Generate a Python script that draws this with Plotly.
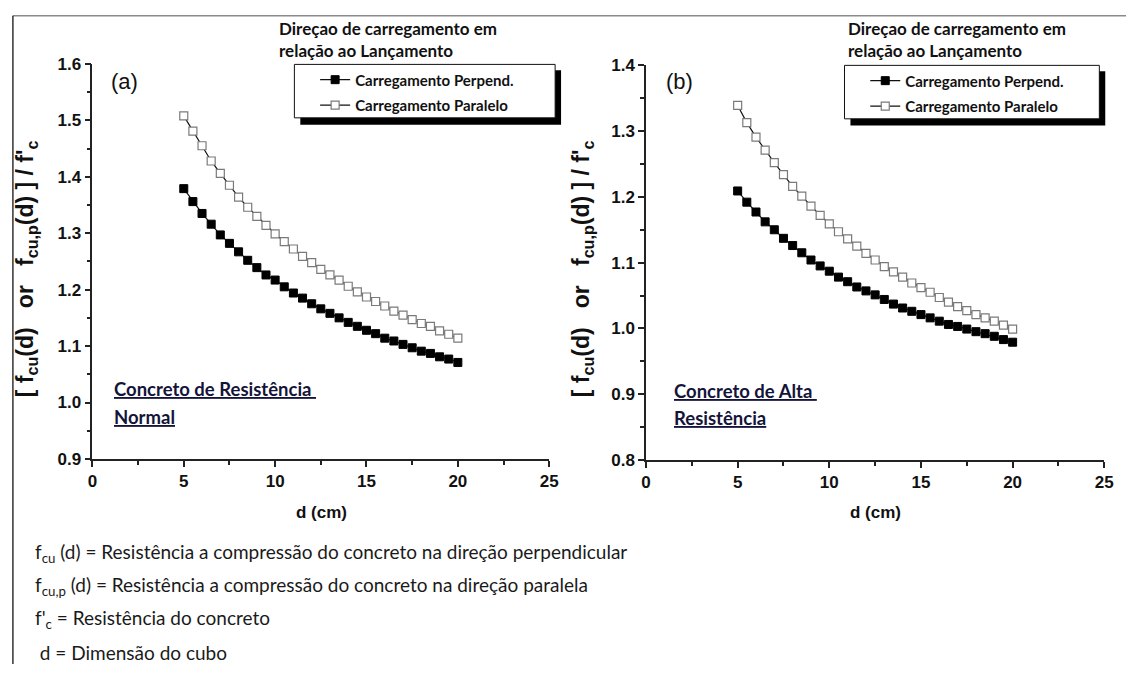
import plotly.graph_objects as go

# Cube size d (cm)
d_cm = [5.0, 5.5, 6.0, 6.5, 7.0, 7.5, 8.0, 8.5, 9.0, 9.5, 10.0,
        10.5, 11.0, 11.5, 12.0, 12.5, 13.0, 13.5, 14.0, 14.5, 15.0,
        15.5, 16.0, 16.5, 17.0, 17.5, 18.0, 18.5, 19.0, 19.5, 20.0]

# (a) Normal-strength concrete
perp_a = [1.379, 1.356, 1.335, 1.316, 1.297, 1.282, 1.267, 1.252, 1.239, 1.226, 1.217,
          1.205, 1.194, 1.185, 1.175, 1.166, 1.158, 1.150, 1.142, 1.135, 1.128,
          1.122, 1.114, 1.109, 1.103, 1.097, 1.091, 1.087, 1.081, 1.077, 1.071]
para_a = [1.508, 1.481, 1.455, 1.428, 1.406, 1.385, 1.364, 1.346, 1.330, 1.314, 1.299,
          1.285, 1.272, 1.259, 1.248, 1.236, 1.226, 1.217, 1.206, 1.196, 1.187,
          1.179, 1.171, 1.162, 1.155, 1.147, 1.140, 1.135, 1.127, 1.121, 1.114]

# (b) High-strength concrete
perp_b = [1.209, 1.192, 1.177, 1.162, 1.150, 1.137, 1.126, 1.115, 1.104, 1.095, 1.087,
          1.078, 1.071, 1.063, 1.057, 1.051, 1.044, 1.037, 1.031, 1.026, 1.021,
          1.016, 1.011, 1.006, 1.003, 0.999, 0.995, 0.992, 0.988, 0.983, 0.979]
para_b = [1.339, 1.313, 1.291, 1.271, 1.252, 1.234, 1.216, 1.201, 1.186, 1.172, 1.159,
          1.147, 1.136, 1.125, 1.114, 1.104, 1.094, 1.086, 1.078, 1.069, 1.062,
          1.055, 1.047, 1.040, 1.033, 1.027, 1.021, 1.016, 1.011, 1.005, 0.999]

series_names = ["Carregamento Perpend.", "Carregamento Paralelo"]
x_ticks = [0, 5, 10, 15, 20, 25]

W, H = 1135, 674


def px(x):
    return x / W


def py(y):
    return 1 - y / H


fig = go.Figure()

line_style = dict(color="#111111", width=1.2)
perp_marker = dict(symbol="square", size=8, color="#000000", line=dict(color="#000000", width=1))
para_marker = dict(symbol="square", size=8, color="#ffffff", line=dict(color="#7a7a7a", width=1.2))

for xa, ya, leg, perp, para in [("x", "y", "legend", perp_a, para_a),
                                ("x2", "y2", "legend2", perp_b, para_b)]:
    fig.add_trace(go.Scatter(x=d_cm, y=perp, mode="lines+markers", name=series_names[0],
                             line=line_style, marker=perp_marker, xaxis=xa, yaxis=ya,
                             legend=leg, legendgroup=leg + "p"))
    fig.add_trace(go.Scatter(x=d_cm, y=para, mode="lines+markers", name=series_names[1],
                             line=line_style, marker=para_marker, xaxis=xa, yaxis=ya,
                             legend=leg, legendgroup=leg + "q"))

tick_font = dict(family="Liberation Sans, Arial, sans-serif", size=17, color="#111111", weight="bold")
axis_common = dict(showline=True, linecolor="#222222", linewidth=1.5, ticks="outside",
                   ticklen=6, tickwidth=1.5, tickcolor="#222222", showgrid=False,
                   zeroline=False, tickfont=tick_font)

fig.update_layout(
    xaxis=dict(domain=[px(88.5), px(551)], range=[0, 25], tickvals=x_ticks,
               minor=dict(ticks="outside", ticklen=4, dtick=2.5, tickcolor="#222222", tickwidth=1.5),
               anchor="y", **axis_common),
    yaxis=dict(domain=[py(463), py(56.5)], range=[0.9, 1.6], dtick=0.1, tickformat=".1f",
               minor=dict(ticks="outside", ticklen=4, dtick=0.05, tickcolor="#222222", tickwidth=1.5),
               anchor="x", **axis_common),
    xaxis2=dict(domain=[px(649), px(1113)], range=[0, 25], tickvals=x_ticks,
                minor=dict(ticks="outside", ticklen=4, dtick=2.5, tickcolor="#222222", tickwidth=1.5),
                anchor="y2", **axis_common),
    yaxis2=dict(domain=[py(464), py(58)], range=[0.8, 1.4], dtick=0.1, tickformat=".1f",
                minor=dict(ticks="outside", ticklen=4, dtick=0.05, tickcolor="#222222", tickwidth=1.5),
                anchor="x2", **axis_common),
)

legend_font = dict(family="Lato, sans-serif", size=15, color="#111111", weight="bold")
legend_common = dict(bgcolor="rgba(0,0,0,0)", borderwidth=0, font=legend_font,
                     xanchor="left", yanchor="top", traceorder="grouped", tracegroupgap=3)
fig.update_layout(
    showlegend=True,
    legend=dict(x=px(314), y=py(56), **legend_common),
    legend2=dict(x=px(871), y=py(57), **legend_common),
    width=W, height=H,
    margin=dict(l=0, r=0, t=0, b=0),
    paper_bgcolor="#ffffff", plot_bgcolor="#ffffff",
)

shapes = []
# page frame (top and left rules)
shapes.append(dict(type="line", xref="paper", yref="paper", x0=px(8), x1=1, y0=py(7), y1=py(7),
                   line=dict(color="#8a8a8a", width=1.5)))
shapes.append(dict(type="line", xref="paper", yref="paper", x0=px(8), x1=px(8), y0=py(7), y1=0,
                   line=dict(color="#333333", width=1.5)))
# legend boxes with drop shadow
for (x0, x1, y0, y1) in [(293, 557, 57, 112), (850, 1108, 58, 113)]:
    shapes.append(dict(type="rect", xref="paper", yref="paper", layer="above",
                       x0=px(x0 + 6), x1=px(x1 + 6), y0=py(y1 + 7), y1=py(y0 + 6),
                       fillcolor="#000000", line=dict(width=0)))
    shapes.append(dict(type="rect", xref="paper", yref="paper", layer="above",
                       x0=px(x0), x1=px(x1), y0=py(y1), y1=py(y0),
                       fillcolor="#ffffff", line=dict(color="#111111", width=1)))
fig.update_layout(shapes=shapes)

ann = []
title_font = dict(family="Lato, sans-serif", size=17, color="#111111", weight="bold")
for x0 in (275, 851):
    ann.append(dict(text="Direçao de carregamento em", x=px(x0), y=py(20)))
    ann.append(dict(text="relação ao Lançamento", x=px(x0), y=py(43)))
for a in ann:
    a.update(xref="paper", yref="paper", xanchor="left", yanchor="middle", showarrow=False,
             font=title_font)

sp = "\u00a0"
ytitle = ("[" + sp + "f<sub>cu</sub>(d)" + sp * 3 + "or" + sp * 3 +
          "f<sub>cu,p</sub>(d)" + sp + "]" + sp + "/" + sp + "f'<sub>c</sub>")
for xc in (22, 585):
    ann.append(dict(text=ytitle, x=px(xc), y=py(267), xref="paper", yref="paper",
                    textangle=-90, showarrow=False, xanchor="center", yanchor="middle",
                    font=dict(family="Liberation Sans, Arial, sans-serif", size=23,
                              color="#111111", weight="bold")))
for xc, lab in ((121, "(a)"), (683, "(b)")):
    ann.append(dict(text=lab, x=px(xc), y=py(75), xref="paper", yref="paper", showarrow=False,
                    xanchor="center", yanchor="middle",
                    font=dict(family="Liberation Sans, Arial, sans-serif", size=22, color="#111111")))
for xc in (320, 881):
    ann.append(dict(text="d (cm)", x=px(xc), y=py(518), xref="paper", yref="paper",
                    showarrow=False, xanchor="center", yanchor="middle",
                    font=dict(family="Liberation Sans, Arial, sans-serif", size=17,
                              color="#111111", weight="bold")))

navy = dict(family="Lato, sans-serif", size=18.5, color="#14143a", weight="bold")
for txt, x0, yc in (("<u>Concreto de Resistência" + sp + "</u>", 108, 391),
                    ("<u>Normal</u>", 108, 420),
                    ("<u>Concreto de Alta" + sp + "</u>", 675, 393),
                    ("<u>Resistência</u>", 675, 421)):
    ann.append(dict(text=txt, x=px(x0), y=py(yc), xref="paper", yref="paper", showarrow=False,
                    xanchor="left", yanchor="middle", font=navy))

notes = [
    "f<sub>cu</sub> (d) = Resistência a compressão do concreto na direção perpendicular",
    "f<sub>cu,p</sub> (d) = Resistência a compressão do concreto na direção paralela",
    "f'<sub>c</sub> = Resistência do concreto",
    sp + "d = Dimensão do cubo",
]
for txt, yc in zip(notes, (560, 594, 628, 662)):
    ann.append(dict(text=txt, x=px(28), y=py(yc), xref="paper", yref="paper", showarrow=False,
                    xanchor="left", yanchor="middle",
                    font=dict(family="Lato, sans-serif", size=19, color="#1a1a1a")))

fig.update_layout(annotations=ann)

fig.write_html("out.html")
